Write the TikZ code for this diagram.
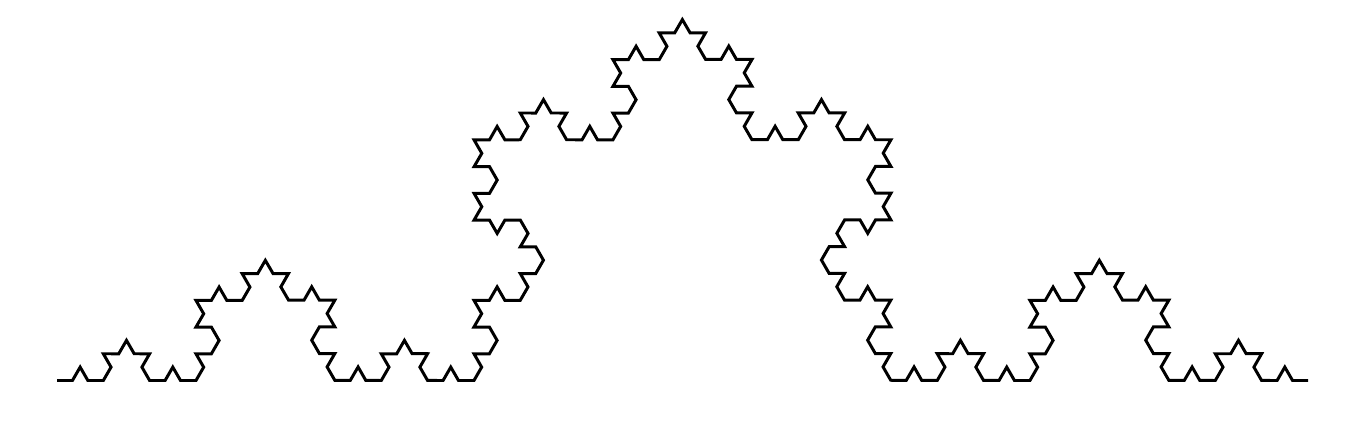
\documentclass[tikz,border=0pt]{standalone}
\usepackage{tikz}
\usetikzlibrary{decorations.fractals}
\tikzstyle{curve} = [line width=1.7pt, line join=miter, draw=black, decoration=Koch snowflake]

\begin{document}
\begin{tikzpicture}

\useasboundingbox (0,0) rectangle (27.44,8.48);

%% END POINTS

\coordinate (start) at (1.14,0.87);
\coordinate (end) at (26.16,0.87);

%% CURVE

\draw [curve] decorate{decorate{decorate{decorate{(start) -- (end)}}}};

\end{tikzpicture}
\end{document}
